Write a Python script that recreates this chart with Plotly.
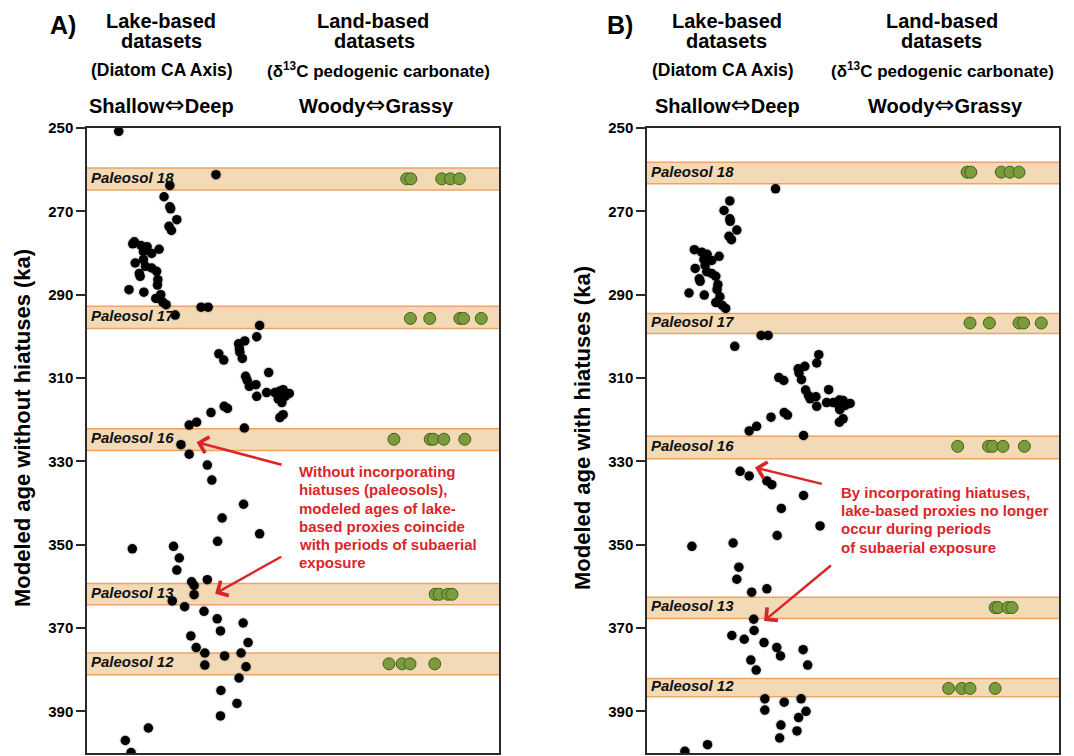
import plotly.graph_objects as go

FONT = "Liberation Sans, Arial, Helvetica, sans-serif"

# ---------------- Panel A (ages without hiatuses) ----------------
lake_a_x = [7.7, 31.3, 20.1, 18.7, 20.1, 20.3, 21.8, 19.9, 20.5, 11.5, 11.1, 13.1, 14.6, 17.5, 13.7,
            15.7, 11.7, 13.7, 14.2, 15.7, 12.7, 12.9, 16.9, 17.2, 17.1, 10.2, 13.8, 16.7, 17.9, 18.4,
            19.2, 27.7, 29.4, 21.4, 41.9, 41.2, 38.3, 36.8, 37.0, 37.1, 37.7, 32.0, 33.2, 44.1, 38.5,
            38.9, 39.4, 41.0, 41.2, 43.6, 45.6, 46.7, 47.6, 49.1, 48.1, 46.4, 47.3, 47.6, 46.8, 30.1,
            33.3, 34.1, 26.6, 24.8, 38.2, 22.8, 24.8, 29.2, 30.3, 38.0, 32.8, 41.9, 31.7, 21.0, 11.0,
            22.4, 21.8, 25.4, 26.0, 29.2, 26.0, 20.7, 23.7, 28.4, 31.6, 37.9, 32.4, 25.2, 39.1, 26.5,
            28.6, 33.4, 37.4, 28.6, 38.6, 36.9, 32.5, 36.4, 32.4, 14.9, 9.3, 10.7]
lake_a_age = [250.8, 261.2, 263.8, 266.5, 268.9, 269.4, 272.0, 273.6, 274.6, 277.3, 277.8, 278.2, 278.5,
              279.1, 279.7, 280.1, 282.4, 281.6, 283.2, 283.6, 284.9, 285.6, 284.4, 286.4, 287.7, 288.8,
              289.4, 290.9, 290.0, 291.8, 292.4, 293.0, 293.0, 294.9, 297.4, 300.1, 301.1, 301.8, 302.9,
              303.8, 305.3, 304.2, 305.7, 308.7, 309.6, 310.6, 312.0, 311.6, 314.4, 313.5, 313.5, 313.2,
              312.8, 313.7, 314.4, 315.0, 315.9, 318.8, 319.5, 318.3, 316.8, 317.3, 320.6, 321.3, 322.0,
              326.0, 328.3, 330.9, 334.5, 340.3, 343.6, 347.4, 349.2, 350.4, 351.0, 353.2, 356.1, 358.9,
              359.8, 358.4, 362.0, 363.5, 364.9, 366.0, 367.8, 368.8, 370.7, 371.9, 373.5, 374.7, 376.0,
              376.7, 376.0, 378.9, 379.3, 382.0, 385.0, 388.1, 391.1, 394.0, 397.0, 399.9]

land_a_x = [77.6, 78.6, 86.1, 88.2, 90.4,
            78.5, 83.2, 90.5, 91.4, 95.7,
            74.5, 83.3, 84.1, 86.6, 91.7,
            84.5, 85.5, 87.6, 88.6,
            73.3, 76.5, 78.4, 84.4]
land_a_age = [262.2] * 5 + [295.7] * 5 + [324.7] * 5 + [361.9] * 4 + [378.6] * 4

paleosol_names = ["Paleosol 18", "Paleosol 17", "Paleosol 16", "Paleosol 13", "Paleosol 12"]
paleo_a_top = [259.6, 292.8, 322.2, 359.3, 376.0]
paleo_a_bot = [264.9, 298.1, 327.4, 364.4, 381.2]

# ---------------- Panel B (ages with hiatuses) ----------------
lake_b_x = [31.2, 20.1, 18.7, 20.1, 20.2, 21.8, 19.9, 20.5, 11.5, 13.3, 14.6, 17.5, 13.8, 15.7, 11.7,
            14.1, 14.5, 15.7, 16.7, 12.7, 12.9, 17.2, 17.0, 10.2, 13.9, 17.7, 16.7, 18.3, 19.1, 27.7,
            29.4, 21.3, 41.7, 41.2, 38.3, 36.7, 36.9, 37.5, 32.0, 33.2, 44.1, 38.5, 39.2, 41.0, 41.2,
            39.6, 43.6, 45.2, 46.7, 47.6, 49.3, 48.1, 46.7, 46.8, 47.6, 46.7, 30.1, 33.3, 34.1, 26.6,
            24.8, 38.0, 22.6, 24.8, 29.1, 30.3, 38.0, 32.6, 42.0, 31.6, 10.9, 20.9, 22.3, 21.8, 25.4,
            29.1, 25.9, 26.0, 20.6, 23.6, 28.4, 31.5, 32.4, 37.9, 39.0, 25.2, 26.5, 28.6, 33.3, 37.4,
            28.6, 38.6, 36.8, 32.5, 36.4, 32.2, 14.7, 9.2]
lake_b_age = [264.6, 267.5, 269.8, 271.8, 272.4, 274.5, 276.0, 276.8, 279.2, 279.8, 280.3, 280.8, 281.6,
              281.8, 283.7, 283.0, 284.5, 284.9, 285.6, 286.2, 286.8, 287.6, 288.8, 289.6, 290.1, 290.5,
              291.9, 292.6, 293.3, 299.8, 299.8, 302.4, 304.4, 306.4, 307.2, 307.8, 308.8, 310.4, 309.9,
              310.6, 312.8, 312.9, 314.2, 314.5, 316.8, 315.0, 315.9, 315.9, 315.3, 315.4, 316.1, 316.6,
              316.9, 317.6, 319.8, 320.6, 319.4, 318.3, 318.9, 321.6, 322.7, 323.8, 332.4, 333.5, 334.7,
              335.6, 338.2, 341.3, 345.5, 347.8, 350.4, 349.6, 355.4, 358.3, 361.4, 360.6, 367.9, 370.6,
              371.8, 372.7, 373.5, 374.7, 376.7, 375.2, 378.9, 377.7, 380.1, 387.0, 387.8, 387.0, 389.7,
              390.0, 391.5, 393.3, 394.7, 396.4, 398.0, 399.6]

land_b_x = [77.7, 78.6, 86.0, 88.1, 90.3,
            78.4, 83.1, 90.3, 91.4, 95.7,
            75.4, 82.9, 83.9, 86.4, 91.6,
            84.5, 85.2, 87.6, 88.6,
            73.2, 76.4, 78.4, 84.5]
land_b_age = [260.6] * 5 + [296.8] * 5 + [326.4] * 5 + [365.1] * 4 + [384.5] * 4

paleo_b_top = [258.2, 294.5, 324.0, 362.6, 382.1]
paleo_b_bot = [263.4, 299.3, 329.4, 367.7, 386.5]

age_ticks = [250, 270, 290, 310, 330, 350, 370, 390]
age_range = [400, 250]

note_a_lines = ["Without incorporating", "hiatuses (paleosols),", "modeled ages of lake-",
                "based proxies coincide", "with periods of subaerial", "exposure"]
note_b_lines = ["By incorporating hiatuses,", "lake-based proxies no longer", "occur during periods",
                "of subaerial exposure"]

# ---------------- figure ----------------
W, H = 1074, 756
ML, MR, MT, MB = 87, 15, 128, 3
PW, PH = W - ML - MR, H - MT - MB


def px(x):
    return (x - ML) / PW


def py(y):
    return (H - MB - y) / PH


RED = "#d9262a"
BAND_FILL = "#f2dab7"
BAND_LINE = "#eba463"
GREEN = "#7b9b3c"
GREEN_EDGE = "#46621c"

fig = go.Figure()

panels = [
    dict(xa="x", ya="y", lx=lake_a_x, ly=lake_a_age, gx=land_a_x, gy=land_a_age,
         top=paleo_a_top, bot=paleo_a_bot),
    dict(xa="x2", ya="y2", lx=lake_b_x, ly=lake_b_age, gx=land_b_x, gy=land_b_age,
         top=paleo_b_top, bot=paleo_b_bot),
]

shapes = []
annotations = []
for p in panels:
    fig.add_trace(go.Scatter(x=p["lx"], y=p["ly"], xaxis=p["xa"], yaxis=p["ya"], mode="markers",
                             marker=dict(size=12, color="rgba(0,0,0,0.10)", line=dict(width=0)),
                             hoverinfo="skip", showlegend=False))
    fig.add_trace(go.Scatter(x=p["lx"], y=p["ly"], xaxis=p["xa"], yaxis=p["ya"], mode="markers",
                             marker=dict(size=9.5, color="black", line=dict(width=0)),
                             name="Diatom CA Axis", showlegend=False))
    fig.add_trace(go.Scatter(x=p["gx"], y=p["gy"], xaxis=p["xa"], yaxis=p["ya"], mode="markers",
                             marker=dict(size=12, color=GREEN, line=dict(width=1, color=GREEN_EDGE)),
                             name="δ13C pedogenic carbonate", showlegend=False))
    for name, t, b in zip(paleosol_names, p["top"], p["bot"]):
        shapes.append(dict(type="rect", xref=p["xa"] + " domain", yref=p["ya"], x0=0, x1=1, y0=t, y1=b,
                           fillcolor=BAND_FILL, line=dict(width=0), layer="below"))
        for yy in (t, b):
            shapes.append(dict(type="line", xref=p["xa"] + " domain", yref=p["ya"], x0=0, x1=1, y0=yy, y1=yy,
                               line=dict(color=BAND_LINE, width=1.5), layer="below"))
        annotations.append(dict(text="<b><i>" + name + "</i></b>", xref=p["xa"] + " domain", yref=p["ya"],
                                x=0.006, y=(t + b) / 2, xanchor="left", yanchor="middle", yshift=2,
                                showarrow=False, font=dict(family=FONT, size=15, color="#111")))

axis_common = dict(showgrid=False, zeroline=False, showline=True, mirror=True,
                   linecolor="#2a2a2a", linewidth=1.5)
fig.update_layout(
    width=W, height=H,
    margin=dict(l=ML, r=MR, t=MT, b=MB),
    paper_bgcolor="white", plot_bgcolor="white",
    showlegend=False,
    xaxis=dict(domain=[0, px(499)], range=[0, 100], showticklabels=False, ticks="", anchor="y",
               **axis_common),
    xaxis2=dict(domain=[px(647), 1], range=[0, 100], showticklabels=False, ticks="", anchor="y2",
                **axis_common),
    yaxis=dict(range=age_range, tickvals=age_ticks, ticks="outside", ticklen=9, tickwidth=1.5,
               tickcolor="#2a2a2a", anchor="x",
               tickfont=dict(family=FONT, size=15, color="black", weight="bold"), **axis_common),
    yaxis2=dict(range=age_range, tickvals=age_ticks, ticks="outside", ticklen=9, tickwidth=1.5,
                tickcolor="#2a2a2a", anchor="x2",
                tickfont=dict(family=FONT, size=15, color="black", weight="bold"), **axis_common),
    shapes=shapes,
)


def head(text, x, y, size):
    annotations.append(dict(text=text, xref="paper", yref="paper", x=px(x), y=py(y),
                            xanchor="center", yanchor="middle", showarrow=False,
                            font=dict(family=FONT, size=size, color="black")))


ARW = "<span style='font-family:DejaVu Sans;font-size:24px'>⇔</span>"
# header text and horizontal centres (pixels) for panel A and panel B
headers = [
    ("<b>A)</b>", "<b>B)</b>", 63, 620, 25, 25),
    ("<b>Lake-based</b>", "<b>Lake-based</b>", 161, 727, 21, 20),
    ("<b>datasets</b>", "<b>datasets</b>", 161, 726, 41, 20),
    ("<b>(Diatom CA Axis)</b>", "<b>(Diatom CA Axis)</b>", 162, 723, 70, 17.5),
    ("<b>Shallow</b>" + ARW + "<b>Deep</b>", "<b>Shallow</b>" + ARW + "<b>Deep</b>", 161, 727, 105, 20),
    ("<b>Land-based</b>", "<b>Land-based</b>", 373, 942, 21, 20),
    ("<b>datasets</b>", "<b>datasets</b>", 374, 941, 41, 20),
    ("<b>(δ<sup>13</sup>C pedogenic carbonate)</b>", "<b>(δ<sup>13</sup>C pedogenic carbonate)</b>", 378, 942, 70, 17),
    ("<b>Woody</b>" + ARW + "<b>Grassy</b>", "<b>Woody</b>" + ARW + "<b>Grassy</b>", 376, 945, 105, 20),
]
for ta, tb, xa_, xb_, yy, sz in headers:
    head(ta, xa_, yy, sz)
    head(tb, xb_, yy, sz)

# y-axis titles
annotations.append(dict(text="<b>Modeled age without hiatuses (ka)</b>", xref="paper", yref="paper",
                        x=px(22), y=py(428), textangle=-90, showarrow=False, xanchor="center",
                        yanchor="middle", font=dict(family=FONT, size=22, color="black")))
annotations.append(dict(text="<b>Modeled age with hiatuses (ka)</b>", xref="paper", yref="paper",
                        x=px(582), y=py(428), textangle=-90, showarrow=False, xanchor="center",
                        yanchor="middle", font=dict(family=FONT, size=22, color="black")))

# red notes, one annotation per line for tight line spacing
for i, line in enumerate(note_a_lines):
    annotations.append(dict(text="<b>" + line + "</b>", xref="paper", yref="paper",
                            x=px(297), y=py(471.7 + 18.2 * i), xanchor="left", yanchor="middle",
                            showarrow=False, font=dict(family=FONT, size=15, color=RED)))
for i, line in enumerate(note_b_lines):
    annotations.append(dict(text="<b>" + line + "</b>", xref="paper", yref="paper",
                            x=px(839), y=py(492.7 + 18.1 * i), xanchor="left", yanchor="middle",
                            showarrow=False, font=dict(family=FONT, size=15, color=RED)))

arrows = [("x", "y", 26.6, 325.4, 47.6, 330.9),
          ("x", "y", 31.1, 361.75, 47.5, 352.7),
          ("x2", "y2", 26.2, 331.5, 42.8, 335.5),
          ("x2", "y2", 28.4, 368.3, 45.0, 354.7)]
for xr, yr, hx, hy, tx, ty in arrows:
    annotations.append(dict(text="", xref=xr, yref=yr, axref=xr, ayref=yr, x=hx, y=hy, ax=tx, ay=ty,
                            showarrow=True, arrowhead=4, arrowsize=1.3, arrowwidth=2.5,
                            arrowcolor=RED, standoff=0))

fig.update_layout(annotations=annotations)
fig.write_html("out.html")
